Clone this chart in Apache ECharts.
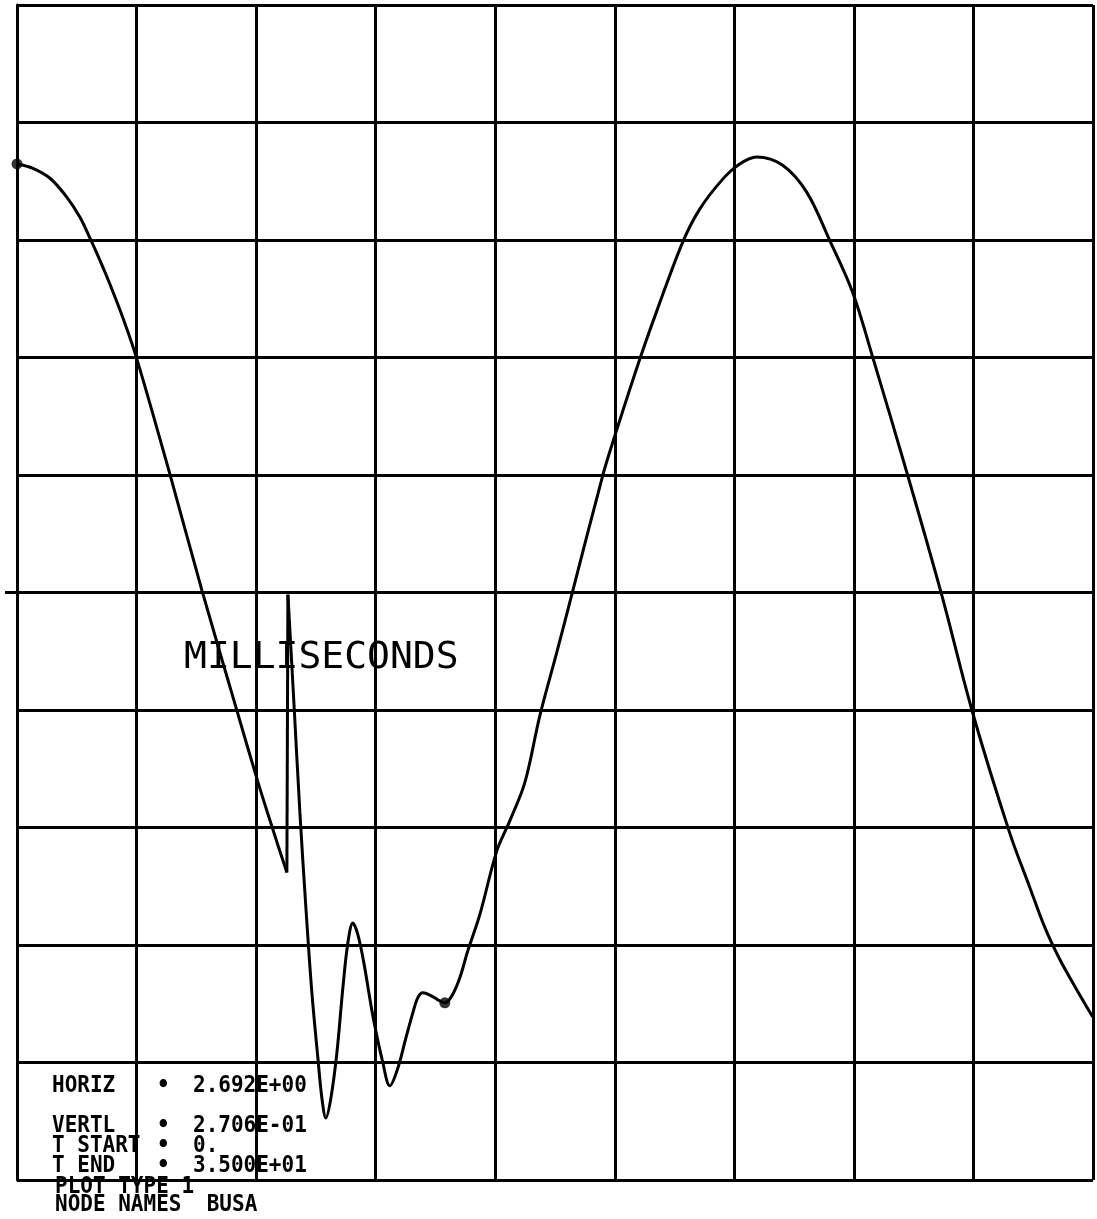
<!DOCTYPE html>
<html><head><meta charset="utf-8">
<script src="https://cdn.jsdelivr.net/npm/echarts@6/dist/echarts.min.js"></script>
<style>html,body{margin:0;padding:0;background:#fff}#c{width:1097px;height:1219px}</style>
</head><body><div id="c"></div>
<script>
// time (ms) and value (units)
const timeMs = [0, 0.360, 0.743, 1.125, 1.418, 1.643, 1.868, 2.093, 2.386, 2.701,
  3.444, 4.164, 4.952, 5.424, 5.762, 6.077,
  6.100, 6.235, 6.370, 6.505, 6.640, 6.775, 6.865, 6.955, 7.068, 7.203,
  7.338, 7.450, 7.563, 7.675, 7.810, 8.013, 8.238, 8.395, 8.576, 8.756,
  8.913, 9.026, 9.138, 9.296, 9.476, 9.633, 9.791, 9.971, 10.151, 10.421,
  10.804, 11.096, 11.434, 11.772, 12.154, 12.492, 13.190, 13.415, 14.022, 14.405,
  14.990, 15.373, 15.891, 16.273, 16.656, 17.241, 17.781, 18.299, 18.817, 19.267,
  20.055, 20.820, 21.518, 22.350, 22.801, 23.138, 23.476, 23.813, 24.219];
const busaValues = [0.987, 0.977, 0.954, 0.910, 0.864, 0.816, 0.765, 0.710, 0.632, 0.537,
  0.272, 0.005, -0.272, -0.436, -0.546, -0.645,
  -0.005, -0.254, -0.507, -0.726, -0.922, -1.072, -1.164, -1.210, -1.164, -1.060,
  -0.910, -0.807, -0.761, -0.788, -0.853, -0.975, -1.083, -1.136, -1.095, -1.026,
  -0.968, -0.933, -0.922, -0.927, -0.938, -0.945, -0.929, -0.887, -0.825, -0.742,
  -0.595, -0.526, -0.438, -0.284, -0.138, -0.005, 0.270, 0.346, 0.537, 0.648,
  0.807, 0.883, 0.952, 0.987, 1.003, 0.984, 0.922, 0.811, 0.691, 0.542,
  0.270, -0.005, -0.277, -0.553, -0.678, -0.770, -0.844, -0.906, -0.977];
const markerTimes = [0, 9.633];
const markerValues = [0.987, -0.945];
const spikeStart = 15;   // index of the trough before the spike
const spikeTop = 16;     // index of the spike top
const horizPerDiv = 2.692;
const vertPerDiv = 0.2706;
const xDivisions = 9;
const yHalfDivisions = 5;
const infoLabels = ['HORIZ', 'VERTL', 'T START', 'T END'];
const infoValues = ['2.692E+00', '2.706E-01', '0.', '3.500E+01'];
const axisTitle = 'MILLISECONDS';
const plotTypeText = 'PLOT TYPE 1';
const nodeNamesText = 'NODE NAMES  BUSA';

const pts = timeMs.map((t, i) => [t, busaValues[i]]);
const lineStyle = { color: '#000', width: 3 };
const gridLine = { show: true, lineStyle: { color: '#000', width: 3 }, showMinLine: true, showMaxLine: true };

const chart = echarts.init(document.getElementById('c'), null, { renderer: 'canvas' });
const infoFont = 'bold 21px "DejaVu Sans Mono"';
const infoRowsY = [1086, 1126, 1146, 1166];
const graphics = [];
function txt(s, x, y, font) {
  return { type: 'text', x: x, y: y, z: 100, scaleY: 1.12,
    style: { text: s, font: font, fill: '#000', textVerticalAlign: 'middle' } };
}
infoLabels.forEach((lab, i) => {
  graphics.push(txt(lab, 52, infoRowsY[i], infoFont));
  graphics.push(txt('\u2022', 157, infoRowsY[i], infoFont));
  graphics.push(txt(infoValues[i], 193, infoRowsY[i], infoFont));
});
graphics.push(txt(plotTypeText, 55, 1187, infoFont));
graphics.push(txt(nodeNamesText, 55, 1205, infoFont));
graphics.push({ type: 'text', x: 184, y: 658, z: 100,
  style: { text: axisTitle, font: '38px "DejaVu Sans Mono"', fill: '#000', textVerticalAlign: 'middle' } });

chart.setOption({
  animation: false,
  backgroundColor: '#fff',
  grid: { left: 17, right: 4, top: 5, bottom: 39, containLabel: false },
  xAxis: {
    type: 'value', min: 0, max: horizPerDiv * xDivisions, interval: horizPerDiv,
    axisLine: { show: true, onZero: true, lineStyle: { color: '#000', width: 3 } },
    axisTick: { show: false }, axisLabel: { show: false },
    splitLine: gridLine
  },
  yAxis: {
    type: 'value', min: -vertPerDiv * yHalfDivisions, max: vertPerDiv * yHalfDivisions, interval: vertPerDiv,
    axisLine: { show: true, lineStyle: { color: '#000', width: 3 } },
    axisTick: { show: false }, axisLabel: { show: false },
    splitLine: gridLine
  },
  series: [
    { type: 'line', data: pts.slice(0, spikeStart + 1), smooth: 0.35, symbol: 'none', lineStyle, z: 5 },
    { type: 'line', data: pts.slice(spikeStart, spikeTop + 1), smooth: false, symbol: 'none', lineStyle, z: 5 },
    { type: 'line', data: pts.slice(spikeTop), smooth: 0.35, symbol: 'none', lineStyle, z: 5 },
    { type: 'scatter', data: markerTimes.map((t, i) => [t, markerValues[i]]), symbol: 'circle', symbolSize: 11,
      itemStyle: { color: '#000' }, z: 6 }
  ],
  graphic: graphics
});
const zeroPx = chart.convertToPixel({ gridIndex: 0 }, [0, 0]);
graphics.push({ type: 'line', z: 100, shape: { x1: 5, y1: zeroPx[1], x2: zeroPx[0], y2: zeroPx[1] },
  style: { stroke: '#000', lineWidth: 3 } });
chart.setOption({ graphic: graphics });
</script></body></html>
